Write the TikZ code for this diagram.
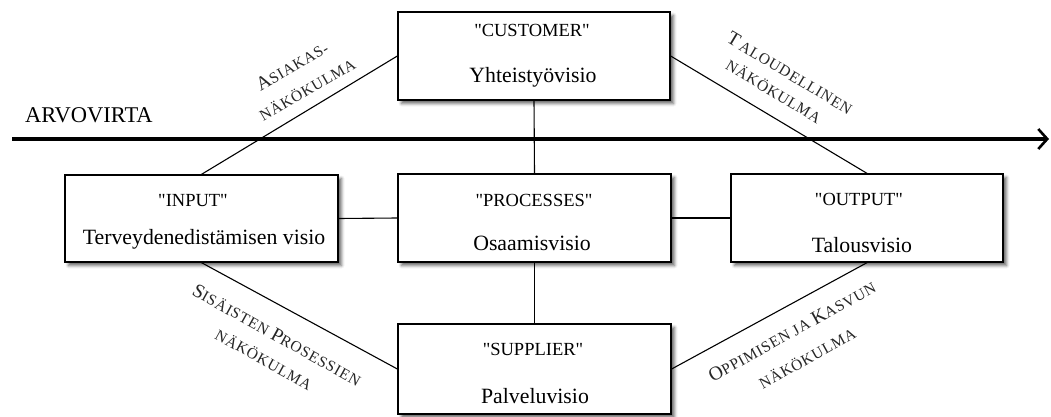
\documentclass[tikz,border=0pt]{standalone}
\usepackage{fontspec}
\setmainfont{Liberation Serif}
% family without TeX ligature mapping, so " stays a straight quote
\newfontfamily\boxserif{Liberation Serif}
\newfontfamily\viewserif{Liberation Serif}[LetterSpace=5]
\usetikzlibrary{arrows.meta,shadows.blur}

% larger initial letter inside the small-capital view labels
\newcommand\initcap[1]{{\fontsize{19.5}{19.5}\selectfont #1}}

\tikzset{
  visionbox/.style={draw=black, line width=1.3pt, fill=white,
    minimum width=272pt, minimum height=88pt, inner sep=0pt,
    blur shadow={shadow xshift=3.5pt, shadow yshift=-3.5pt,
      shadow blur radius=3pt, shadow opacity=60}},
  headtxt/.style={font=\boxserif\fontsize{18.5}{18.5}\selectfont, anchor=base, inner sep=0pt},
  nametxt/.style={font=\boxserif\fontsize{21.8}{21.8}\selectfont, anchor=base, inner sep=0pt},
  link/.style={line width=1.1pt},
  viewtxt/.style={font=\viewserif\fontsize{15.5}{15.5}\selectfont,
    inner sep=0pt, text=black!85},
  flow/.style={line width=3.3pt, -{Straight Barb[length=9pt,width=20pt,line width=2.6pt]}},
}

\begin{document}
\begin{tikzpicture}[x=1pt, y=-1pt]
\useasboundingbox (0,0) rectangle (1051,417);

% value stream arrow
\coordinate (flowstart) at (12,139);
\coordinate (flowend) at (1049,139);
\draw[flow] (flowstart) -- (flowend);
\node[font=\boxserif\fontsize{22.5}{22.5}\selectfont, anchor=base west, inner sep=0pt] (flowlbl) at (25,123) {ARVOVIRTA};

% vision boxes
\node[visionbox] (cust) at (534,56) {};
\node[visionbox, minimum width=273pt, minimum height=87pt] (inp) at (201.5,218.5) {};
\node[visionbox, minimum width=273pt] (proc) at (534.5,218) {};
\node[visionbox] (outp) at (867,218) {};
\node[visionbox, minimum width=273pt, minimum height=90pt] (supp) at (534.5,369) {};

% box texts
\node[headtxt] (custh) at (532,37) {"CUSTOMER"};
\node[nametxt] (custn) at (533,83) {Yhteistyövisio};
\node[headtxt] (inph) at (193,206) {"INPUT"};
\node[nametxt] (inpn) at (204,244) {Terveydenedistämisen visio};
\node[headtxt] (proch) at (534,206) {"PROCESSES"};
\node[nametxt] (procn) at (532,250) {Osaamisvisio};
\node[headtxt] (outph) at (859,205) {"OUTPUT"};
\node[nametxt] (outpn) at (862,252) {Talousvisio};
\node[headtxt] (supph) at (533,355) {"SUPPLIER"};
\node[nametxt] (suppn) at (535,403) {Palveluvisio};

% connectors
\draw[link] (cust.south) -- (proc.north);
\draw[link] (proc.south) -- (supp.north);
\draw[link] (inp.east) -- (proc.west);
\draw[link] (proc.east) -- (outp.west);
\draw[link] (inp.north) -- (cust.west);
\draw[link] (cust.east) -- (outp.north);
\draw[link] (inp.south) -- (supp.west);
\draw[link] (supp.east) -- (outp.south);

% perspective labels along the diagonals
\node[viewtxt, rotate=30] (v1a) at (292,66) {\initcap{A}SIAKAS-};
\node[viewtxt, rotate=30] (v1b) at (307,89) {NÄKÖKULMA};
\node[viewtxt, rotate=-31] (v2a) at (790,73) {\initcap{T}\,ALOUDELLINEN};
\node[viewtxt, rotate=-31] (v2b) at (774,91) {NÄKÖKULMA};
\node[viewtxt, rotate=-29] (v3a) at (277,335) {\initcap{S}ISÄISTEN \initcap{P}ROSESSIEN};
\node[viewtxt, rotate=-29] (v3b) at (264,359) {NÄKÖKULMA};
\node[viewtxt, rotate=29] (v4a) at (792,331) {\initcap{O}PPIMISEN JA \initcap{K}ASVUN};
\node[viewtxt, rotate=29] (v4b) at (807,358) {NÄKÖKULMA};
\end{tikzpicture}
\end{document}
